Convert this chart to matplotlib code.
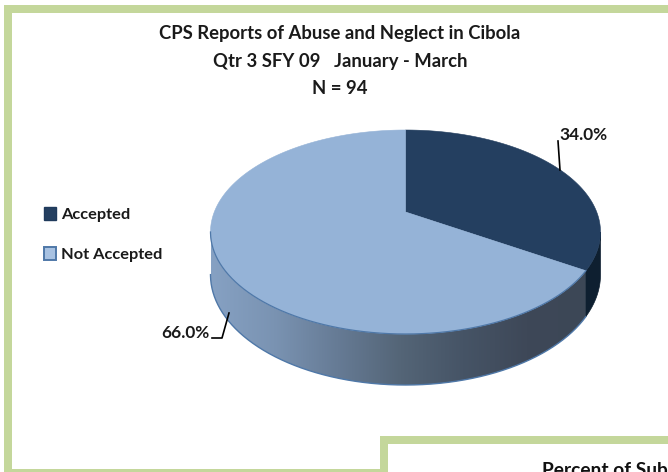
import numpy as np
import matplotlib
matplotlib.use("Agg")
import matplotlib.pyplot as plt
from matplotlib.patches import Polygon, Rectangle, Patch
from matplotlib.colors import LinearSegmentedColormap

plt.rcParams['font.family'] = ['Lato', 'DejaVu Sans']

title_lines = ["CPS Reports of Abuse and Neglect in Cibola",
               "Qtr 3 SFY 09   January - March",
               "N = 94"]
categories = ["Accepted", "Not Accepted"]
values = [34.0, 66.0]
colors = ["#243f60", "#95b3d7"]
clipped_title = "Percent of Sub"

W, H = 668, 472
fig = plt.figure(figsize=(W / 100, H / 100), dpi=100, facecolor="white")
ax = fig.add_axes([0, 0, 1, 1])
ax.set_xlim(0, W)
ax.set_ylim(H, 0)
ax.axis("off")

# Frames
green = "#c4d79b"
for x, y, w, h in [(4, 5, W - 4, 8), (4, 5, 8, H - 5), (12, 469, 372, 3),
                   (380, 436, 8, 36), (380, 436, W - 380, 8)]:
    ax.add_patch(Rectangle((x, y), w, h, fc=green, ec="none", zorder=1))

# Perspective projection of the pie disc
CX, APEX_Y, TOP_Y, BOT_Y, RX = 405.5, 212.0, 130.0, 334.0, 195.0
c = (TOP_Y + BOT_Y - 2 * APEX_Y) * -1 / (TOP_Y - BOT_Y)
a = TOP_Y + TOP_Y * c - APEX_Y
k = RX * np.sqrt(1 - c ** 2)
DEPTH = 41.0


def project(theta_deg):
    t = np.radians(theta_deg)
    u, v = np.sin(t), np.cos(t)
    d = 1 + c * v
    return np.column_stack([CX + k * u / d, (a * v + APEX_Y) / d])


def drop(theta_deg):
    return DEPTH / (1 + c * np.cos(np.radians(theta_deg)))


fracs = np.array(values) / sum(values)
edges = np.concatenate([[0], np.cumsum(fracs) * 360])
th_right = np.degrees(np.arccos(-c))
th_left = 360 - th_right


def wall(t0, t1):
    th = np.linspace(t0, t1, 200)
    top = project(th)
    bot = top + np.column_stack([np.zeros_like(th), drop(th)])
    return np.vstack([top, bot[::-1]]), bot


grad_cmap = LinearSegmentedColormap.from_list(
    "wall", ["#86a1c3", "#7a93b2", "#667b95", "#546577", "#465466", "#3e4858", "#3c4756"])
poly, bot = wall(edges[1], th_left)
patch = Polygon(poly, closed=True, fc="none", ec="none", zorder=2)
ax.add_patch(patch)
im = ax.imshow(np.linspace(0, 1, 256)[None, :], extent=(211, 590, 400, 200), cmap=grad_cmap,
               aspect="auto", zorder=2, interpolation="bilinear")
im.set_clip_path(patch)
ax.plot(bot[:, 0], bot[:, 1], color="#4f78a8", lw=1.0, zorder=3)

poly2, bot2 = wall(th_right, edges[1])
ax.add_patch(Polygon(poly2, closed=True, fc="#0e1f30", ec="#0e1f30", lw=0.5, zorder=2))

# Top faces
for i, col in enumerate(colors):
    th = np.linspace(edges[i], edges[i + 1], 300)
    pts = np.vstack([[CX, APEX_Y], project(th)])
    ax.add_patch(Polygon(pts, closed=True, fc=col, ec=col, lw=0.4, zorder=4))
rim = project(np.linspace(edges[1], th_left, 200))
ax.plot(rim[:, 0], rim[:, 1], color="#4f78a8", lw=0.9, zorder=5)

# Titles
for line, y in zip(title_lines, [33, 61, 88]):
    ax.text(340, y, line, ha="center", va="center", fontsize=13.3, fontweight="bold",
            color="#1a1a1a", zorder=6)
ax.text(542, 471, clipped_title, ha="left", va="center", fontsize=13.8, fontweight="bold",
        color="#111111", zorder=6, clip_on=True)

# Data labels
ax.text(559, 134.5, f"{values[0]:.1f}%", ha="left", va="center", fontsize=12.4,
        fontweight="bold", color="#1a1a1a", zorder=6)
ax.text(210, 333, f"{values[1]:.1f}%", ha="right", va="center", fontsize=12.4,
        fontweight="bold", color="#1a1a1a", zorder=6)
ax.plot([558, 560], [141, 170], color="black", lw=1.2, zorder=6)
ax.plot([212, 222, 229], [338, 338, 313], color="black", lw=1.2, zorder=6)

# Legend
handles = [Patch(fc=colors[0], ec="#1f3a5c", lw=1),
           Patch(fc="#a8c2e2", ec="#4f78a8", lw=1.4)]
leg = ax.legend(handles, categories, loc="center left", bbox_to_anchor=(44 / W, 1 - 234.5 / H),
                frameon=False, fontsize=11.8, handlelength=0.72, handleheight=0.85,
                handletextpad=0.3, labelspacing=1.5, borderpad=0, borderaxespad=0)
for t in leg.get_texts():
    t.set_fontweight("bold")
    t.set_color("#1a1a1a")
leg.set_zorder(6)

ax.set_xlim(0, W)
ax.set_ylim(H, 0)
fig.savefig("out.png", dpi=100)
